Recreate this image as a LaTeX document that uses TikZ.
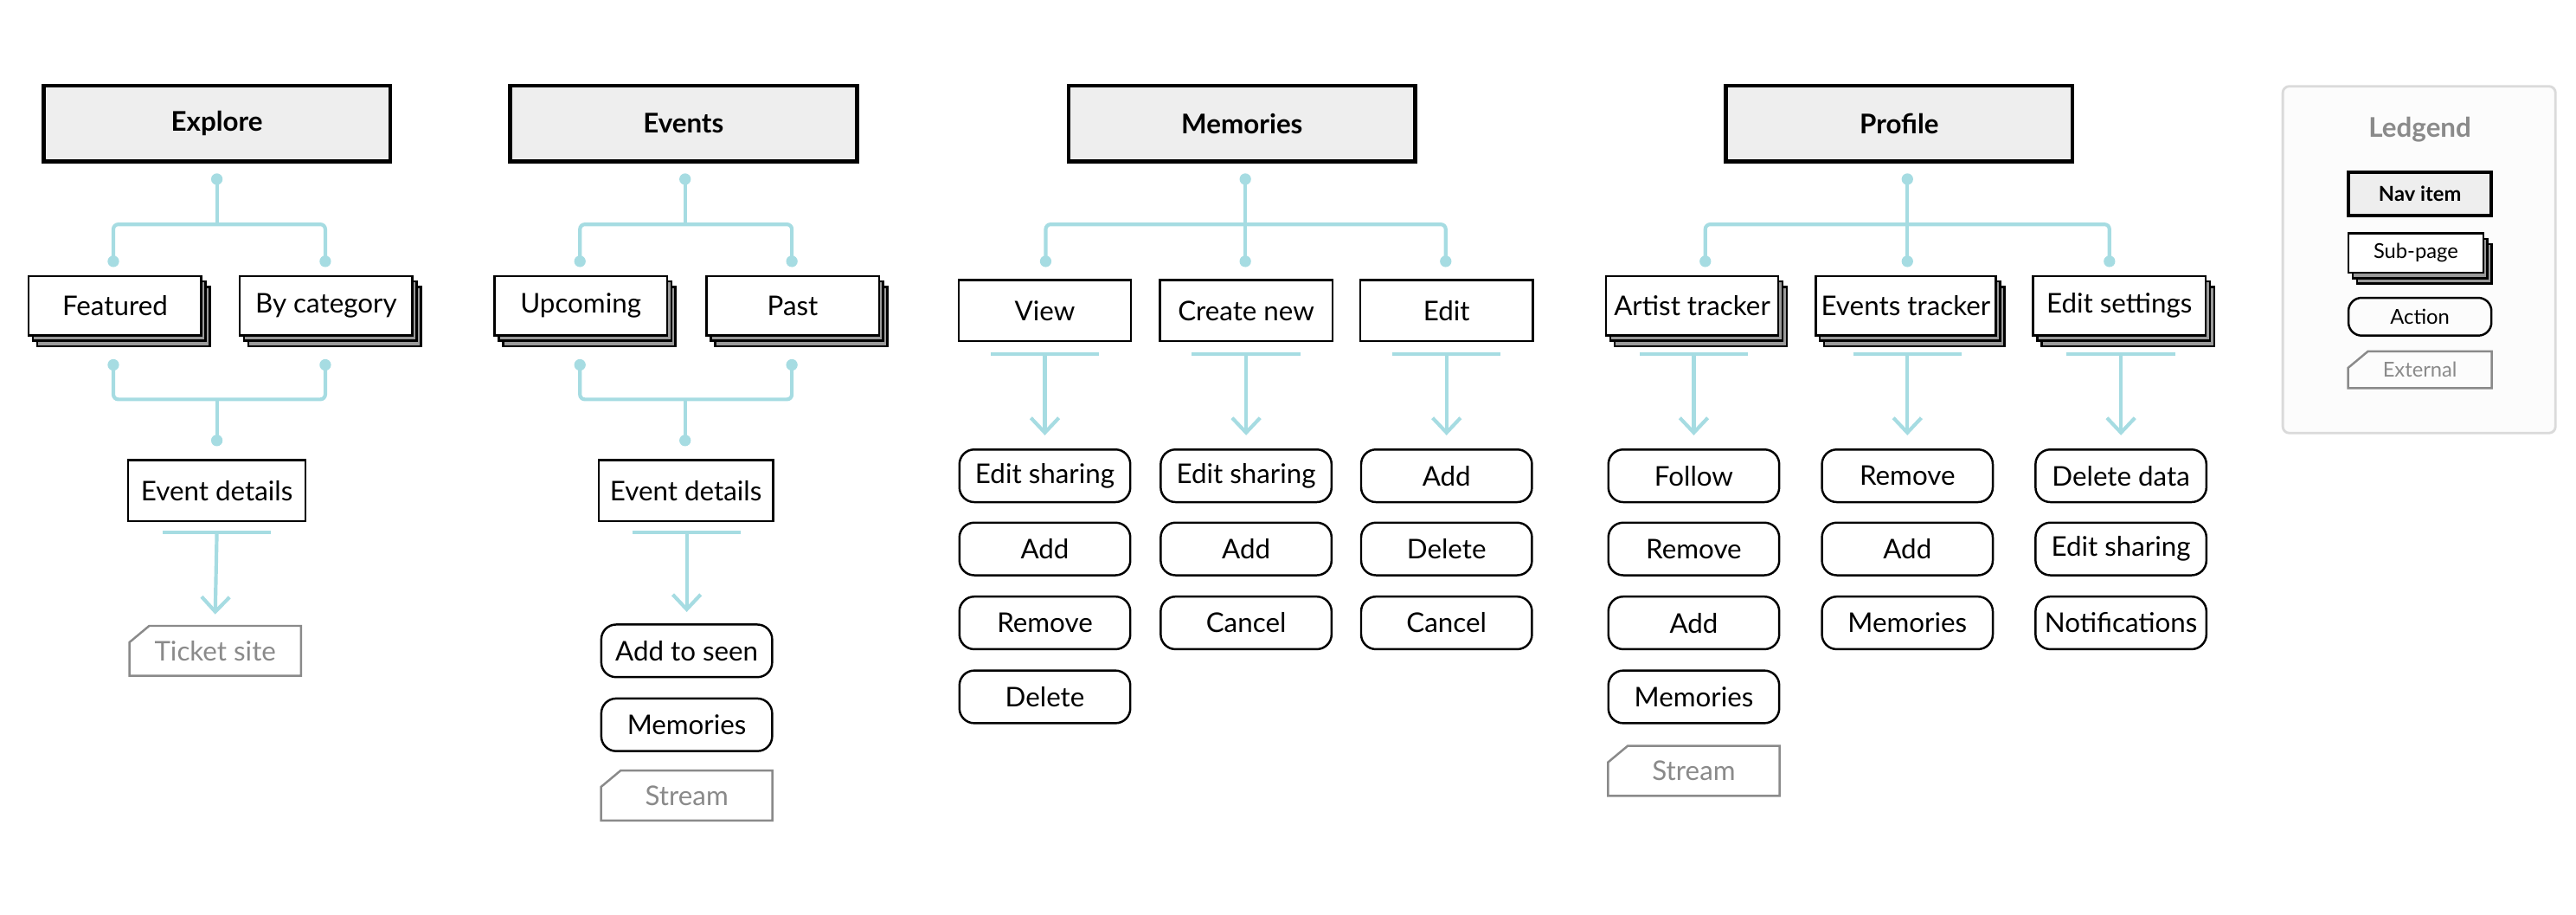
\documentclass[tikz,border=0pt]{standalone}
\usepackage{fontspec}
\setmainfont{Lato}
\usetikzlibrary{shadows,arrows.meta}

\definecolor{linkteal}{HTML}{A6DCE2}
\definecolor{navfill}{HTML}{EEEEEE}
\definecolor{extgray}{HTML}{8A8A8A}
\definecolor{stackgray}{HTML}{9A9A9A}
\definecolor{keyline}{HTML}{DADADA}
\definecolor{keyfill}{HTML}{FCFCFC}

\begin{document}
\begin{tikzpicture}[x=1pt,y=-1pt,
  font=\fontsize{16.5}{20}\selectfont,
  navbox/.style={draw,line width=2.5,fill=navfill,minimum width=211,minimum height=46,
    font=\fontsize{16.5}{20}\selectfont\bfseries},
  pagebox/.style={draw,line width=1.3,fill=white,minimum width=105,minimum height=37},
  subbox/.style={pagebox,minimum height=36,
    copy shadow={shadow xshift=5.2pt,shadow yshift=-6.6pt,fill=stackgray,draw=black,line width=1.3},
    copy shadow={shadow xshift=2.6pt,shadow yshift=-3.3pt,fill=stackgray,draw=black,line width=1.3}},
  actionbox/.style={draw,line width=1.3,rounded corners=9,minimum width=104,minimum height=32},
  extbox/.style={minimum width=104,minimum height=30,text=extgray,
    append after command={\pgfextra{\draw[draw=extgray,line width=1.3]
      (\tikzlastnode.south west) -- (\tikzlastnode.south east) -- (\tikzlastnode.north east)
      -- ([xshift=12pt]\tikzlastnode.north west) -- ([yshift=-10pt]\tikzlastnode.north west) -- cycle;}}},
  linkdot/.style={circle,fill=linkteal,inner sep=0,minimum size=7},
  link/.style={draw=linkteal,line width=2.2,rounded corners=3},
  arrow/.style={link,-{Straight Barb[length=9pt,width=17pt]}}]

  \useasboundingbox (0,0) rectangle (1568,556.7);

  % Explore
  \node[navbox] (nexplore) at (132,75.2) {Explore};
  \node[linkdot] (dexplore) at (132,109) {};
  \node[linkdot] (dfeatured) at (69,159) {};
  \node[linkdot] (dcategory) at (198,159) {};
  \node[subbox] (sfeatured) at (70,186) {Featured};
  \node[subbox] (scategory) at (198.5,186) {By category};
  \node[linkdot] (dfeatured2) at (69,222) {};
  \node[linkdot] (dcategory2) at (198,222) {};
  \node[linkdot] (ddetails) at (132,268) {};
  \node[pagebox,minimum width=108] (pdetails) at (132,298.5) {Event details};
  \coordinate (tdetails) at (132,324);
  \node[extbox] (xticket) at (131,396) {Ticket site};

  \draw[link] (dexplore.center) -- ++(0,27.5);
  \draw[link] (dfeatured.center) -- ++(0,-22.5) -| (dcategory.center);
  \draw[link] (dfeatured2.center) -- ++(0,21) -| (dcategory2.center);
  \draw[link] (ddetails.center) -- ++(0,-25);
  \draw[link] ([xshift=-33pt]tdetails) -- ([xshift=33pt]tdetails);
  \draw[arrow] (tdetails) -- ([yshift=7pt]xticket.north);

  % Events
  \node[navbox] (nevents) at (416,75.2) {Events};
  \node[linkdot] (devents) at (417,109) {};
  \node[linkdot] (dupcoming) at (353,159) {};
  \node[linkdot] (dpast) at (482,159) {};
  \node[subbox] (supcoming) at (353.5,186) {Upcoming};
  \node[subbox] (spast) at (482.5,186) {Past};
  \node[linkdot] (dupcoming2) at (353,222) {};
  \node[linkdot] (dpast2) at (482,222) {};
  \node[linkdot] (ddetails2) at (417,268) {};
  \node[pagebox,minimum width=106] (pdetails2) at (417.5,298.5) {Event details};
  \coordinate (tdetails2) at (418,324);
  \node[actionbox] (aseen) at (418,396) {Add to seen};
  \node[actionbox] (amemories) at (418,441) {Memories};
  \node[extbox] (xstream) at (418,484) {Stream};

  \draw[link] (devents.center) -- ++(0,27.5);
  \draw[link] (dupcoming.center) -- ++(0,-22.5) -| (dpast.center);
  \draw[link] (dupcoming2.center) -- ++(0,21) -| (dpast2.center);
  \draw[link] (ddetails2.center) -- ++(0,-25);
  \draw[link] ([xshift=-33pt]tdetails2) -- ([xshift=33pt]tdetails2);
  \draw[arrow] (tdetails2) -- ([yshift=7pt]aseen.north);

  % Memories
  \node[navbox] (nmemories) at (756,75.2) {Memories};
  \node[linkdot] (dmemories) at (758,109) {};
  \node[linkdot] (dview) at (636.5,159) {};
  \node[linkdot] (dcreate) at (758,159) {};
  \node[linkdot] (dedit) at (880,159) {};
  \node[pagebox] (pview) at (636,189) {View};
  \node[pagebox] (pcreate) at (758.5,189) {Create new};
  \node[pagebox] (pedit) at (880.5,189) {Edit};
  \coordinate (tview) at (636,215.5);
  \coordinate (tcreate) at (758.5,215.5);
  \coordinate (tedit) at (880.5,215.5);
  \node[actionbox] (avshare) at (636,289.5) {Edit sharing};
  \node[actionbox] (avadd) at (636,334) {Add};
  \node[actionbox] (avremove) at (636,379) {Remove};
  \node[actionbox] (avdelete) at (636,424) {Delete};
  \node[actionbox] (acshare) at (758.5,289.5) {Edit sharing};
  \node[actionbox] (acadd) at (758.5,334) {Add};
  \node[actionbox] (accancel) at (758.5,379) {Cancel};
  \node[actionbox] (aeadd) at (880.5,289.5) {Add};
  \node[actionbox] (aedelete) at (880.5,334) {Delete};
  \node[actionbox] (aecancel) at (880.5,379) {Cancel};

  \draw[link] (dmemories.center) -- (dcreate.center);
  \draw[link] (dview.center) -- ++(0,-22.5) -| (dedit.center);
  \draw[link] ([xshift=-33pt]tview) -- ([xshift=33pt]tview);
  \draw[link] ([xshift=-33pt]tcreate) -- ([xshift=33pt]tcreate);
  \draw[link] ([xshift=-33pt]tedit) -- ([xshift=33pt]tedit);
  \draw[arrow] (tview) -- ([yshift=8pt]avshare.north);
  \draw[arrow] (tcreate) -- ([yshift=8pt]acshare.north);
  \draw[arrow] (tedit) -- ([yshift=8pt]aeadd.north);

  % Profile
  \node[navbox] (nprofile) at (1156,75.2) {Profile};
  \node[linkdot] (dprofile) at (1161,109) {};
  \node[linkdot] (dartist) at (1038,159) {};
  \node[linkdot] (dtracker) at (1161,159) {};
  \node[linkdot] (dsettings) at (1284,159) {};
  \node[subbox] (sartist) at (1030,186) {Artist tracker};
  \node[subbox] (stracker) at (1160,186) {Events tracker};
  \node[subbox] (ssettings) at (1290,186) {Edit settings};
  \coordinate (tartist) at (1031,215.5);
  \coordinate (ttracker) at (1161,215.5);
  \coordinate (tsettings) at (1291,215.5);
  \node[actionbox] (aafollow) at (1031,289.5) {Follow};
  \node[actionbox] (aaremove) at (1031,334) {Remove};
  \node[actionbox] (aaadd) at (1031,379) {Add};
  \node[actionbox] (aamemories) at (1031,424) {Memories};
  \node[extbox] (xstream2) at (1031,469) {Stream};
  \node[actionbox] (atremove) at (1161,289.5) {Remove};
  \node[actionbox] (atadd) at (1161,334) {Add};
  \node[actionbox] (atmemories) at (1161,379) {Memories};
  \node[actionbox] (asdelete) at (1291,289.5) {Delete data};
  \node[actionbox] (asshare) at (1291,334) {Edit sharing};
  \node[actionbox] (asnotify) at (1291,379) {Notifications};

  \draw[link] (dprofile.center) -- (dtracker.center);
  \draw[link] (dartist.center) -- ++(0,-22.5) -| (dsettings.center);
  \draw[link] ([xshift=-33pt]tartist) -- ([xshift=33pt]tartist);
  \draw[link] ([xshift=-33pt]ttracker) -- ([xshift=33pt]ttracker);
  \draw[link] ([xshift=-33pt]tsettings) -- ([xshift=33pt]tsettings);
  \draw[arrow] (tartist) -- ([yshift=8pt]aafollow.north);
  \draw[arrow] (ttracker) -- ([yshift=8pt]atremove.north);
  \draw[arrow] (tsettings) -- ([yshift=8pt]asdelete.north);

  % legend
  \node[draw=keyline,line width=1.5,fill=keyfill,rounded corners=4,
    minimum width=166,minimum height=211] (legend) at (1472.5,158) {};
  \node[text=extgray,font=\fontsize{16.5}{20}\selectfont\bfseries] (ltitle) at (1473,79) {Ledgend};
  \node[navbox,minimum width=87,minimum height=26,line width=2,
    font=\fontsize{12.5}{15}\selectfont\bfseries] (lnav) at (1473,118) {Nav item};
  \node[subbox,minimum width=82,minimum height=24,font=\fontsize{12.5}{15}\selectfont] (lsub) at (1470.5,154) {Sub-page};
  \node[actionbox,minimum width=87,minimum height=23,rounded corners=8,
    font=\fontsize{12.5}{15}\selectfont] (laction) at (1473,192.7) {Action};
  \node[extbox,minimum width=87,minimum height=22,font=\fontsize{12.5}{15}\selectfont] (lext) at (1473,225) {External};

\end{tikzpicture}
\end{document}
